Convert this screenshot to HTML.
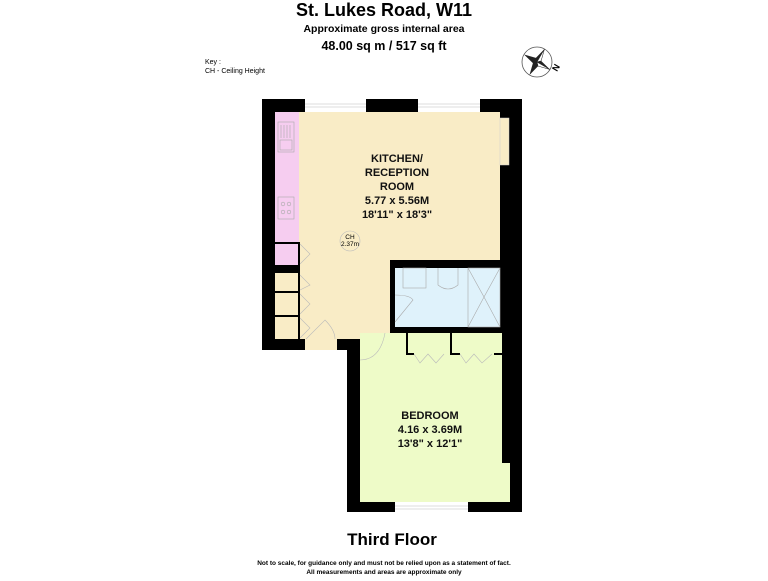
<!DOCTYPE html>
<html><head><style>
body{margin:0;background:#fff;width:768px;height:576px;overflow:hidden;font-family:"Liberation Sans",sans-serif}
</style></head><body>
<svg width="768" height="576" viewBox="0 0 768 576" xmlns="http://www.w3.org/2000/svg" font-family="Liberation Sans, sans-serif">
<text x="384" y="16" text-anchor="middle" font-size="18" font-weight="bold">St. Lukes Road, W11</text>
<text x="384" y="32" text-anchor="middle" font-size="10.5" font-weight="bold">Approximate gross internal area</text>
<text x="384" y="50" text-anchor="middle" font-size="12.5" font-weight="bold">48.00 sq m / 517 sq ft</text>
<text x="205" y="64" font-size="7">Key :</text>
<text x="205" y="73" font-size="7">CH - Ceiling Height</text>
<g transform="translate(537,62)">
<circle r="15" fill="none" stroke="#555" stroke-width="0.8"/>
<g transform="rotate(30)">
<polygon points="0,-15 3,-3 15,0 3,3 0,15 -3,3 -15,0 -3,-3" fill="#222"/>
<polygon points="0,-15 3,-3 0,0" fill="#fff" stroke="#222" stroke-width="0.5"/>
<polygon points="15,0 3,3 0,0" fill="#fff" stroke="#222" stroke-width="0.5"/>
</g>
<text x="20" y="10" font-size="9" font-weight="bold" transform="rotate(-60 20 10)">N</text>
</g>
<!-- walls -->
<rect x="262" y="99" width="260" height="251" fill="#000"/>
<rect x="337" y="260" width="185" height="90" fill="#000"/>
<rect x="347" y="327" width="175" height="185" fill="#000"/>
<rect x="262" y="350" width="85" height="5" fill="#fff"/>
<rect x="305" y="339" width="32" height="11" fill="#f9ecc6"/>
<!-- kitchen -->
<path d="M275 112 H500 V260 H390 V339 H275 Z" fill="#f9ecc6"/>
<rect x="305" y="99" width="61" height="13" fill="#fff"/>
<rect x="418" y="99" width="62" height="13" fill="#fff"/>
<g stroke="#bbb" stroke-width="0.6"><line x1="305" y1="104" x2="366" y2="104"/><line x1="305" y1="107" x2="366" y2="107"/><line x1="418" y1="104" x2="480" y2="104"/><line x1="418" y1="107" x2="480" y2="107"/></g>
<rect x="500" y="118" width="9" height="47" fill="#f9ecc6" stroke="#ccc" stroke-width="0.5"/>
<rect x="275" y="112" width="24" height="153" fill="#f6cdf0"/>
<g fill="none" stroke="#aaa" stroke-width="0.6">
<rect x="278" y="122" width="16" height="30"/>
<line x1="281" y1="125" x2="281" y2="138"/><line x1="284" y1="125" x2="284" y2="138"/><line x1="287" y1="125" x2="287" y2="138"/><line x1="290" y1="125" x2="290" y2="138"/>
<rect x="280" y="140" width="12" height="10"/>
<rect x="278" y="197" width="16" height="22"/>
<circle cx="283" cy="204" r="1.8"/><circle cx="289" cy="204" r="1.8"/><circle cx="283" cy="212" r="1.8"/><circle cx="289" cy="212" r="1.8"/>
</g>
<rect x="274" y="242" width="26" height="2" fill="#000"/>
<rect x="274" y="265" width="26" height="8" fill="#000"/>
<rect x="274" y="291" width="26" height="2" fill="#000"/>
<rect x="274" y="315" width="26" height="2" fill="#000"/>
<rect x="298" y="242" width="2" height="97" fill="#000"/>
<g fill="none" stroke="#bbb" stroke-width="0.6">
<path d="M300 244 L310 254 L300 264"/><path d="M300 275 L310 285 L300 290"/><path d="M300 294 L310 304 L300 314"/><path d="M300 318 L310 328 L300 338"/>
<path d="M306 339 L325 320 Q335 330 335 339"/>
<circle cx="350" cy="241" r="10"/>
</g>
<text x="350" y="239" text-anchor="middle" font-size="6.5">CH</text>
<text x="350" y="246" text-anchor="middle" font-size="6.5">2.37m</text>
<g font-size="11" font-weight="bold" text-anchor="middle" fill="#111">
<text x="397" y="162">KITCHEN/</text><text x="397" y="176">RECEPTION</text><text x="397" y="190">ROOM</text>
<text x="397" y="204">5.77 x 5.56M</text><text x="397" y="218">18'11" x 18'3"</text>
</g>
<!-- bathroom -->
<rect x="395" y="268" width="105" height="59" fill="#dff2fb"/>
<g fill="none" stroke="#aaa" stroke-width="0.6">
<rect x="403" y="268" width="23" height="20"/>
<path d="M438 268 V285 Q448 293 458 285 V268"/>
<rect x="468" y="268" width="32" height="59"/>
<path d="M468 268 L484 297 L500 268 M468 327 L484 297 L500 327"/>
<path d="M395 295 Q410 295 413 300 L395 322"/>
</g>
<!-- bedroom -->
<path d="M360 333 H502 V463 H510 V502 H360 Z" fill="#eefbc8"/>
<rect x="395" y="502" width="73" height="10" fill="#fff"/>
<g stroke="#bbb" stroke-width="0.6"><line x1="395" y1="506" x2="468" y2="506"/><line x1="395" y1="509" x2="468" y2="509"/></g>
<rect x="406" y="333" width="2" height="21" fill="#000"/><rect x="406" y="353" width="8" height="2" fill="#000"/>
<rect x="450" y="333" width="2" height="21" fill="#000"/><rect x="450" y="353" width="10" height="2" fill="#000"/>
<rect x="494" y="353" width="8" height="2" fill="#000"/>
<g fill="none" stroke="#bbb" stroke-width="0.6">
<path d="M414 354 L420 363 L428 354 L436 363 L444 354"/>
<path d="M460 354 L466 363 L474 354 L482 363 L492 354"/>
<path d="M360 360 Q380 360 385 333"/>
</g>
<g font-size="11" font-weight="bold" text-anchor="middle" fill="#111">
<text x="430" y="419">BEDROOM</text><text x="430" y="433">4.16 x 3.69M</text><text x="430" y="447">13'8" x 12'1"</text>
</g>
<text x="392" y="545" text-anchor="middle" font-size="17" font-weight="bold">Third Floor</text>
<text x="384" y="565" text-anchor="middle" font-size="6.5" font-weight="bold">Not to scale, for guidance only and must not be relied upon as a statement of fact.</text>
<text x="384" y="574" text-anchor="middle" font-size="6.5" font-weight="bold">All measurements and areas are approximate only</text>
</svg>
</body></html>
